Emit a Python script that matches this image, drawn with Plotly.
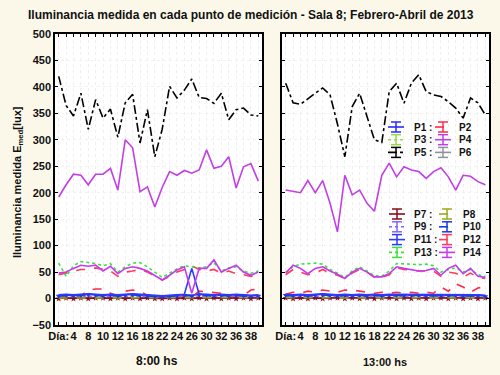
import plotly.graph_objects as go

# ---------------- data ----------------
day_labels = ["Día:", "", "4", "", "8", "", "10", "", "12", "", "16", "", "18", "", "22", "",
              "24", "", "26", "", "30", "", "32", "", "36", "", "38", ""]

series_names = ["P1", "P2", "P3", "P4", "P5", "P6", "P7", "P8", "P9", "P10", "P11", "P12", "P13", "P14"]

# 8:00 hs
P1_8 = [6, 7, 6, 7, 8, 7, 6, 7, 6, 7, 8, 7, 6, 5, 4, 5, 6, 7, 6, 8, 7, 6, 7, 6, 7, 6, 5, 6]
P2_8 = [3, 3, 4, 5, 16, 18, 18, 10, 5, 14, 16, 14, 6, 3, 3, 4, 4, 5, 3, 14, 13, 12, 10, 5, 4, 6, 16, 18]
P3_8 = [4, 4, 5, 4, 5, 4, 4, 5, 4, 4, 5, 4, 4, 3, 3, 4, 4, 4, 3, 4, 4, 5, 4, 4, 4, 4, 4, 4]
P4_8 = [192, 215, 235, 233, 215, 235, 235, 246, 205, 300, 285, 202, 211, 173, 210, 240, 233, 242,
        237, 243, 281, 246, 250, 268, 209, 249, 255, 222]
P5_8 = [420, 365, 345, 388, 320, 376, 341, 358, 305, 370, 386, 294, 357, 268, 320, 401, 379, 394,
        415, 380, 378, 369, 388, 338, 357, 360, 347, 345]
P6_8 = [2, 2, 3, 2, 2, 3, 2, 2, 3, 2, 2, 3, 2, 2, 2, 2, 3, 2, 2, 3, 2, 2, 3, 2, 2, 2, 3, 2]
P7_8 = [0, 1, 0, 1, 0, 1, 1, 0, 1, 0, 1, 0, 1, 0, 0, 1, 0, 1, 0, 1, 0, 1, 0, 1, 0, 1, 0, 1]
P8_8 = [1, 1, 2, 1, 2, 1, 1, 2, 1, 1, 2, 1, 1, 1, 1, 2, 1, 1, 2, 1, 1, 2, 1, 1, 2, 1, 1, 2]
P9_8 = [4, 5, 4, 5, 4, 5, 5, 4, 5, 4, 5, 4, 4, 3, 3, 4, 4, 5, 4, 5, 4, 5, 4, 5, 4, 4, 5, 4]
P10_8 = [5, 6, 5, 6, 7, 6, 5, 6, 5, 6, 7, 6, 5, 4, 3, 4, 5, 6, 5, 7, 6, 5, 6, 5, 6, 5, 4, 5]
P11_8 = [7, 8, 7, 8, 9, 8, 7, 8, 7, 8, 9, 8, 7, 6, 5, 6, 7, 8, 57, 8, 8, 7, 8, 7, 8, 7, 6, 7]
P12_8 = [45, 48, 52, 55, 55, 58, 55, 52, 42, 50, 52, 55, 50, 42, 35, 42, 50, 55, 62, 55, 52, 55,
         48, 52, 47, 45, 42, 45]
P13_8 = [67, 42, 62, 70, 68, 66, 62, 66, 50, 60, 67, 68, 60, 50, 40, 48, 56, 62, 60, 58, 60, 68,
         52, 58, 60, 52, 48, 52]
P14_8 = [48, 50, 57, 63, 61, 63, 52, 61, 47, 57, 60, 57, 52, 44, 35, 44, 54, 60, 10, 57, 57, 73,
         50, 57, 63, 50, 44, 50]

# 13:00 hs
P1_13 = [7, 6, 7, 6, 7, 8, 7, 6, 7, 6, 7, 6, 7, 6, 7, 7, 6, 7, 7, 6, 7, 6, 7, 7, 6, 7, 6, 5]
P2_13 = [8, 12, 10, 14, 12, 16, 14, 12, 16, 16, 14, 12, 10, 12, 10, 12, 10, 12, 10, 12, 10, 22,
         14, 28, 22, 12, 20, 22]
P3_13 = [4, 4, 5, 4, 4, 5, 4, 4, 5, 4, 4, 5, 4, 4, 4, 5, 4, 4, 5, 4, 4, 5, 4, 4, 5, 4, 4, 4]
P4_13 = [205, 202, 200, 223, 200, 223, 180, 126, 233, 196, 205, 180, 165, 233, 256, 230, 249, 243,
         240, 227, 240, 247, 230, 205, 233, 231, 221, 215]
P5_13 = [407, 370, 367, 378, 388, 398, 385, 330, 268, 363, 388, 344, 300, 295, 391, 407, 369, 407,
         423, 391, 385, 382, 372, 360, 341, 379, 370, 347]
P6_13 = [2, 3, 2, 2, 3, 2, 2, 3, 2, 2, 3, 2, 2, 2, 3, 2, 2, 3, 2, 2, 3, 2, 2, 3, 2, 2, 3, 2]
P7_13 = [1, 0, 1, 0, 1, 0, 1, 1, 0, 1, 0, 1, 0, 1, 1, 0, 1, 0, 1, 0, 1, 1, 0, 1, 0, 1, 0, 1]
P8_13 = [2, 1, 1, 2, 1, 1, 2, 1, 1, 2, 1, 1, 2, 1, 1, 2, 1, 1, 2, 1, 1, 2, 1, 1, 2, 1, 1, 2]
P9_13 = [5, 4, 5, 4, 4, 5, 4, 5, 4, 5, 4, 4, 5, 4, 5, 4, 5, 4, 4, 5, 4, 5, 4, 5, 4, 4, 5, 4]
P10_13 = [6, 5, 6, 5, 6, 7, 6, 5, 6, 5, 6, 5, 6, 5, 6, 6, 5, 6, 6, 5, 6, 5, 6, 6, 5, 6, 5, 4]
P11_13 = [8, 7, 8, 7, 8, 9, 8, 7, 8, 7, 8, 7, 8, 7, 8, 8, 7, 8, 8, 7, 8, 7, 8, 8, 7, 8, 7, 6]
P12_13 = [45, 55, 50, 45, 48, 55, 48, 44, 38, 48, 55, 50, 40, 40, 45, 58, 55, 53, 52, 52, 52, 42,
          50, 48, 40, 48, 40, 38]
P13_13 = [50, 60, 65, 66, 67, 65, 55, 48, 40, 52, 60, 52, 43, 42, 52, 66, 66, 65, 64, 65, 62, 50,
          55, 58, 50, 55, 45, 42]
P14_13 = [48, 63, 57, 47, 57, 60, 52, 46, 38, 50, 57, 50, 41, 41, 47, 60, 57, 55, 52, 53, 57, 44,
          57, 63, 47, 57, 42, 40]

data_8 = [P1_8, P2_8, P3_8, P4_8, P5_8, P6_8, P7_8, P8_8, P9_8, P10_8, P11_8, P12_8, P13_8, P14_8]
data_13 = [P1_13, P2_13, P3_13, P4_13, P5_13, P6_13, P7_13, P8_13, P9_13, P10_13, P11_13, P12_13,
           P13_13, P14_13]

# ---------------- styles ----------------
styles = {
    "P1": dict(color="#2a2aff", dash="solid", symbol=None),
    "P2": dict(color="#ff2a4a", dash="dash", symbol=None),
    "P3": dict(color="#9ad84a", dash="dot", symbol=None),
    "P4": dict(color="#c23ee6", dash="solid", symbol=None),
    "P5": dict(color="#000000", dash="dashdot", symbol=None),
    "P6": dict(color="#8c9498", dash="solid", symbol=None),
    "P7": dict(color="#8a0a1a", dash="solid", symbol="star"),
    "P8": dict(color="#9aaa1a", dash="dash", symbol=None),
    "P9": dict(color="#7a6aff", dash="dot", symbol=None),
    "P10": dict(color="#1a3ae0", dash="dash", symbol="triangle-down"),
    "P11": dict(color="#2a3aff", dash="solid", symbol=None),
    "P12": dict(color="#ff3a5a", dash="dash", symbol=None),
    "P13": dict(color="#3ee03e", dash="dot", symbol=None),
    "P14": dict(color="#c43af0", dash="solid", symbol=None),
}

W, H = 500, 375
FONT = "Liberation Sans"
x_vals = list(range(len(day_labels)))
label_vals = [i for i, t in enumerate(day_labels) if t]
label_text = [t for t in day_labels if t]

fig = go.Figure()
for name, y8, y13 in zip(series_names, data_8, data_13):
    st = styles[name]
    mode = "lines+markers" if st["symbol"] else "lines"
    marker = dict(symbol=st["symbol"] or "circle", size=5, color=st["color"])
    for yv, xa, ya in ((y8, "x", "y"), (y13, "x2", "y2")):
        fig.add_trace(go.Scatter(
            x=x_vals, y=yv, name=name, mode=mode, xaxis=xa, yaxis=ya,
            line=dict(color=st["color"], dash=st["dash"], width=1.6),
            marker=marker, showlegend=False, hoverinfo="skip"))


def px(x):
    return x / W


def py(y):
    return 1 - y / H


ydom = [py(325), py(34)]
xaxis_common = dict(
    range=[-0.5, 27.5], tickmode="array", tickvals=label_vals, ticktext=label_text, tickangle=0,
    ticks="inside", ticklen=3, tickcolor="black", mirror="ticks", showline=True,
    linecolor="black", linewidth=1.5, showgrid=True, gridcolor="#efefef", griddash="dot",
    minor=dict(tickmode="array", tickvals=x_vals, ticks="inside", ticklen=3, tickcolor="black",
               showgrid=True, gridcolor="#efefef", griddash="dot"),
    zeroline=False, tickfont=dict(family=FONT, size=11, color="#111", weight="bold"),
    automargin=False, fixedrange=True)
yaxis_common = dict(
    range=[-50, 500], dtick=50, ticks="inside", ticklen=3, tickcolor="black",
    mirror="ticks", showline=True, linecolor="black", linewidth=1.5, showgrid=True,
    gridcolor="#f1f1f1", griddash="dot", zeroline=False, domain=ydom,
    tickfont=dict(family=FONT, size=11, color="#111", weight="bold"), automargin=False,
    fixedrange=True)

fig.update_layout(
    width=W, height=H, margin=dict(l=0, r=0, t=0, b=0),
    paper_bgcolor="#fbf8ea", plot_bgcolor="white",
    xaxis=dict(domain=[px(55), px(262)], anchor="y", **xaxis_common),
    xaxis2=dict(domain=[px(282), px(489)], anchor="y2", **xaxis_common),
    yaxis=dict(anchor="x", **yaxis_common),
    yaxis2=dict(anchor="x2", showticklabels=False, **yaxis_common),
    showlegend=False,
)

anns = [
    dict(text="Iluminancia medida en cada punto de medición - Sala 8; Febrero-Abril de 2013",
         x=px(251), y=py(15), font=dict(size=12, weight="bold")),
    dict(text="Iluminancia medida E<sub>med</sub>[lux]", x=px(18), y=py(182), textangle=-90,
         font=dict(size=11, weight="bold")),
    dict(text="8:00 hs", x=px(157), y=py(361), font=dict(size=12, weight="bold")),
    dict(text="13:00 hs", x=px(385), y=py(362), font=dict(size=11, weight="bold")),
]

shapes = []


def legend_entry(name, gx, ty, label, tx):
    st = styles[name]
    c = st["color"]
    half = 7
    hh = 5
    # error-bar style glyph: caps, stem and the series line
    for yy in (ty - hh, ty + hh):
        shapes.append(dict(type="line", xref="paper", yref="paper", x0=px(gx - half + 2),
                           x1=px(gx + half - 2), y0=py(yy), y1=py(yy),
                           line=dict(color=c, width=1.5)))
    shapes.append(dict(type="line", xref="paper", yref="paper", x0=px(gx), x1=px(gx),
                       y0=py(ty - hh), y1=py(ty + hh), line=dict(color=c, width=1.5)))
    shapes.append(dict(type="line", xref="paper", yref="paper", x0=px(gx - half - 1),
                       x1=px(gx + half + 1), y0=py(ty), y1=py(ty),
                       line=dict(color=c, width=1.6, dash=st["dash"])))
    anns.append(dict(text=label, x=px(tx), y=py(ty), xanchor="left",
                     font=dict(size=10, weight="bold")))


rows1 = [("P1", "P2"), ("P3", "P4"), ("P5", "P6")]
for i, (a, b) in enumerate(rows1):
    ty = 127 + 12.7 * i
    legend_entry(a, 396, ty, a + " :", 412)
    legend_entry(b, 443, ty, b, 457)

rows2 = [("P7", "P8"), ("P9", "P10"), ("P11", "P12"), ("P13", "P14")]
for i, (a, b) in enumerate(rows2):
    ty = 214 + 12.8 * i
    legend_entry(a, 397, ty, a + " :", 412)
    legend_entry(b, 447, ty, b, 461)

for a in anns:
    a.setdefault("xref", "paper")
    a.setdefault("yref", "paper")
    a.setdefault("showarrow", False)
    a.setdefault("xanchor", "center")
    a.setdefault("yanchor", "middle")
    f = a.setdefault("font", {})
    f.setdefault("family", FONT)
    f.setdefault("color", "#111")

fig.update_layout(annotations=anns, shapes=shapes)
fig.write_html("out.html", config={"displayModeBar": False},
               post_script="document.body.style.margin='0';")
